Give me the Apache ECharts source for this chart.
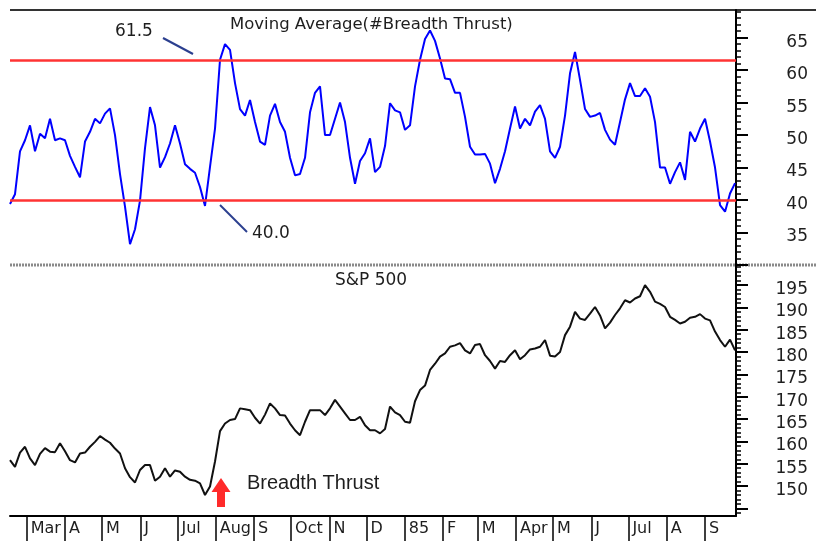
<!DOCTYPE html>
<html>
<head>
<meta charset="utf-8">
<script src="https://cdn.jsdelivr.net/npm/echarts@6/dist/echarts.min.js"></script>
<style>
  html, body { margin: 0; padding: 0; background: #fff; }
  #chart { width: 826px; height: 541px; }
</style>
</head>
<body>
<div id="chart"></div>
<script>
// samples every ~4 days, mid Feb 1984 .. late Sep 1985
const breadth = [
  39.4, 40.9, 47.5, 49.2, 51.5, 47.5, 50.2, 49.5, 52.5, 49.2,
  49.5, 49.2, 46.8, 45.1, 43.5, 49.0, 50.5, 52.5, 51.8, 53.3,
  54.1, 50.0, 44.0, 39.0, 33.2, 35.5, 39.9, 48.0, 54.3, 51.5,
  45.0, 46.6, 48.7, 51.5, 48.7, 45.5, 44.8, 44.2, 42.0, 39.1,
  45.1, 51.0, 61.6, 64.0, 63.1, 58.0, 54.0, 53.0, 55.4, 52.0,
  49.0, 48.5, 53.0, 54.8, 52.0, 50.5, 46.5, 43.8, 44.0, 46.5,
  53.5, 56.5, 57.5, 50.0, 50.0, 52.5, 55.0, 52.0, 46.5, 42.5,
  46.0, 47.2, 49.5, 44.3, 45.1, 48.3, 54.9, 53.8, 53.5, 50.8,
  51.5, 57.5, 61.6, 64.8, 66.1, 64.5, 61.8, 58.7, 58.6, 56.5,
  56.5, 52.8, 48.2, 47.0, 47.0, 47.1, 45.6, 42.6, 44.8, 47.5,
  51.0, 54.4, 51.0, 52.5, 51.5, 53.6, 54.6, 52.5, 47.5, 46.5,
  48.2, 53.0, 59.5, 62.8, 58.5, 54.0, 52.8, 53.0, 53.4, 50.8,
  49.3, 48.5, 52.0, 55.5, 58.0, 56.0, 56.0, 57.2, 55.9, 52.0,
  45.0, 45.0, 42.5, 44.3, 45.8, 43.1, 50.5, 49.0, 51.0, 52.5,
  49.0, 45.0, 39.2, 38.2, 41.0, 42.6
];
const spx = [
  155.8, 154.3, 157.5, 158.8, 156.2, 154.7, 157.2, 158.5, 157.7, 157.6,
  159.6, 157.8, 155.8, 155.3, 157.3, 157.5, 158.8, 159.9, 161.2, 160.4,
  159.7, 158.4, 157.3, 154.0, 152.0, 150.8, 153.6, 154.7, 154.7, 151.2,
  152.1, 154.0, 152.1, 153.5, 153.2, 152.1, 151.4, 151.2, 150.6, 148.0,
  149.9, 155.5, 162.3, 164.0, 164.8, 165.0, 167.4, 167.2, 167.0, 165.3,
  164.0, 166.0, 168.5, 167.4, 165.9, 165.8, 164.0, 162.5, 161.4, 164.4,
  167.0, 167.0, 167.0, 165.9, 167.4, 169.3, 167.8, 166.3, 164.8, 164.8,
  165.5, 163.6, 162.5, 162.5, 161.8, 162.8, 167.8, 166.5, 165.9, 164.4,
  164.2, 169.0, 171.5, 172.5, 176.0, 177.4, 179.0, 179.7, 181.2, 181.5,
  182.0, 180.4, 179.7, 181.6, 181.8, 179.3, 178.0, 176.3, 178.0, 177.8,
  179.3, 180.4, 178.4, 179.3, 180.6, 180.8, 181.2, 182.7, 179.2, 179.0,
  180.0, 183.8, 185.7, 189.0, 187.5, 187.2, 188.6, 190.1, 188.2, 185.3,
  186.6, 188.3, 189.8, 191.6, 191.1, 192.0, 192.5, 195.0, 193.5, 191.3,
  190.8, 190.1, 187.9, 187.2, 186.4, 186.8, 187.7, 187.9, 188.5, 187.5,
  187.1, 184.6, 182.7, 181.2, 182.8, 180.4
];
const thresholds = [61.5, 40.0];

const monthStarts = [
  '1984-03-01', '1984-04-01', '1984-05-01', '1984-06-01', '1984-07-01',
  '1984-08-01', '1984-09-01', '1984-10-01', '1984-11-01', '1984-12-01',
  '1985-01-01', '1985-02-01', '1985-03-01', '1985-04-01', '1985-05-01',
  '1985-06-01', '1985-07-01', '1985-08-01', '1985-09-01'
];
const monthLabels = ['Mar', 'A', 'M', 'J', 'Jul', 'Aug', 'S', 'Oct', 'N', 'D',
  '85', 'F', 'M', 'Apr', 'M', 'J', 'Jul', 'A', 'S'];

const breadthLabels = [35, 40, 45, 50, 55, 60, 65];
const breadthTicks = [30].concat(breadthLabels);
const spxLabels = [150, 155, 160, 165, 170, 175, 180, 185, 190, 195];
const spxTicks = [145].concat(spxLabels);

// x is counted in days from the first sample (16 Feb 1984)
const DAY = 86400000;
const startTime = Date.UTC(1984, 1, 16, 12);
const stepDays = 4.047;
const days = breadth.map((_, i) => i * stepDays);
const xMax = 587.6;
const monthDays = monthStarts.map((d) => (Date.parse(d) - startTime) / DAY);

const FONT = 'DejaVu Sans';
const TXT = '#1e1e1e';

function monthLabel(v) {
  let best = -1, bd = Infinity;
  monthDays.forEach((t, k) => {
    const d = Math.abs(t - v);
    if (d < bd) { bd = d; best = k; }
  });
  return bd < 1 ? monthLabels[best] : '';
}

function priceAxis(grid, min, max, ticks) {
  return {
    type: 'value', gridIndex: grid, position: 'right', min: min, max: max,
    minInterval: 5, maxInterval: 5,
    splitLine: { show: false },
    axisLine: { show: true, onZero: false, lineStyle: { color: '#000', width: 2 } },
    axisTick: { show: true, customValues: ticks, length: 12, lineStyle: { color: '#000', width: 2 } },
    minorTick: { show: true, splitNumber: 5, length: 5, lineStyle: { color: '#000', width: 1.5 } },
    axisLabel: { show: false }
  };
}

const decor = [
  { type: 'line', shape: { x1: 10, y1: 10, x2: 816, y2: 10 }, style: { stroke: '#333', lineWidth: 2 } },
  { type: 'line', shape: { x1: 10, y1: 265, x2: 816, y2: 265 }, style: { stroke: '#8a8a8a', lineWidth: 3, lineDash: [2, 1] } },
  { type: 'text', left: 115, top: 23, style: { text: '61.5', font: '17px "DejaVu Sans"', fill: TXT } },
  { type: 'line', shape: { x1: 163, y1: 38, x2: 193, y2: 54 }, style: { stroke: '#2b3f8f', lineWidth: 2 } },
  { type: 'text', left: 252, top: 225, style: { text: '40.0', font: '17px "DejaVu Sans"', fill: TXT } },
  { type: 'line', shape: { x1: 220, y1: 205, x2: 247, y2: 232 }, style: { stroke: '#2b3f8f', lineWidth: 2 } },
  { type: 'text', left: 247, top: 473, style: { text: 'Breadth Thrust', font: '20px "Liberation Sans"', fill: TXT } },
  {
    type: 'polygon',
    shape: { points: [[221, 478], [230.5, 492], [225, 492], [225, 507], [217, 507], [217, 492], [211.5, 492]] },
    style: { fill: '#ff2a2a' }
  }
];

const chart = echarts.init(document.getElementById('chart'));
chart.setOption({
  animation: false,
  backgroundColor: '#fff',
  grid: [
    { left: 10, right: 90, top: 10, height: 255 },
    { left: 10, right: 90, top: 265, height: 251 }
  ],
  title: [
    {
      text: 'Moving Average(#Breadth Thrust)', left: 230, top: 16, padding: 0,
      textStyle: { fontFamily: FONT, fontSize: 16.5, fontWeight: 'normal', color: TXT }
    },
    {
      text: 'S&P 500', left: 335, top: 272, padding: 0,
      textStyle: { fontFamily: FONT, fontSize: 17, fontWeight: 'normal', color: TXT }
    }
  ],
  xAxis: [
    { type: 'value', gridIndex: 0, min: 0, max: xMax, show: false },
    {
      type: 'value', gridIndex: 1, min: 0, max: xMax,
      splitLine: { show: false },
      axisLine: { show: true, onZero: false, lineStyle: { color: '#000', width: 2 } },
      axisTick: { show: true, customValues: monthDays, length: 25, lineStyle: { color: '#000', width: 1.5 } },
      axisLabel: {
        customValues: monthDays, formatter: monthLabel, align: 'left', margin: 5,
        padding: [0, 0, 0, 4], fontFamily: FONT, fontSize: 16, color: TXT
      }
    }
  ],
  yAxis: [
    priceAxis(0, 30, 69.25, breadthTicks),
    priceAxis(1, 143.3, 199.5, spxTicks)
  ],
  series: [
    {
      name: 'Moving Average(#Breadth Thrust)', type: 'line', xAxisIndex: 0, yAxisIndex: 0,
      data: days.map((t, i) => [t, breadth[i]]),
      showSymbol: false, z: 3,
      lineStyle: { color: '#0000ff', width: 2 },
      markLine: {
        silent: true, symbol: 'none', label: { show: false },
        lineStyle: { color: '#ff3333', width: 2.5, type: 'solid' },
        data: thresholds.map((v) => ({ yAxis: v }))
      }
    },
    {
      name: 'S&P 500', type: 'line', xAxisIndex: 1, yAxisIndex: 1,
      data: days.map((t, i) => [t, spx[i]]),
      showSymbol: false,
      lineStyle: { color: '#111', width: 2 }
    }
  ],
  graphic: decor
});

// right-hand price labels, right-aligned at x=808 and sitting just under their tick
const axisText = [];
[[0, breadthLabels], [1, spxLabels]].forEach(([axisIndex, values]) => {
  values.forEach((v) => {
    const y = chart.convertToPixel({ yAxisIndex: axisIndex }, v);
    axisText.push({
      type: 'text', x: 808, y: y + 4.5,
      style: { text: String(v), font: '17px "DejaVu Sans"', fill: TXT, align: 'right', verticalAlign: 'middle' }
    });
  });
});
chart.setOption({ graphic: decor.concat(axisText) });
</script>
</body>
</html>
